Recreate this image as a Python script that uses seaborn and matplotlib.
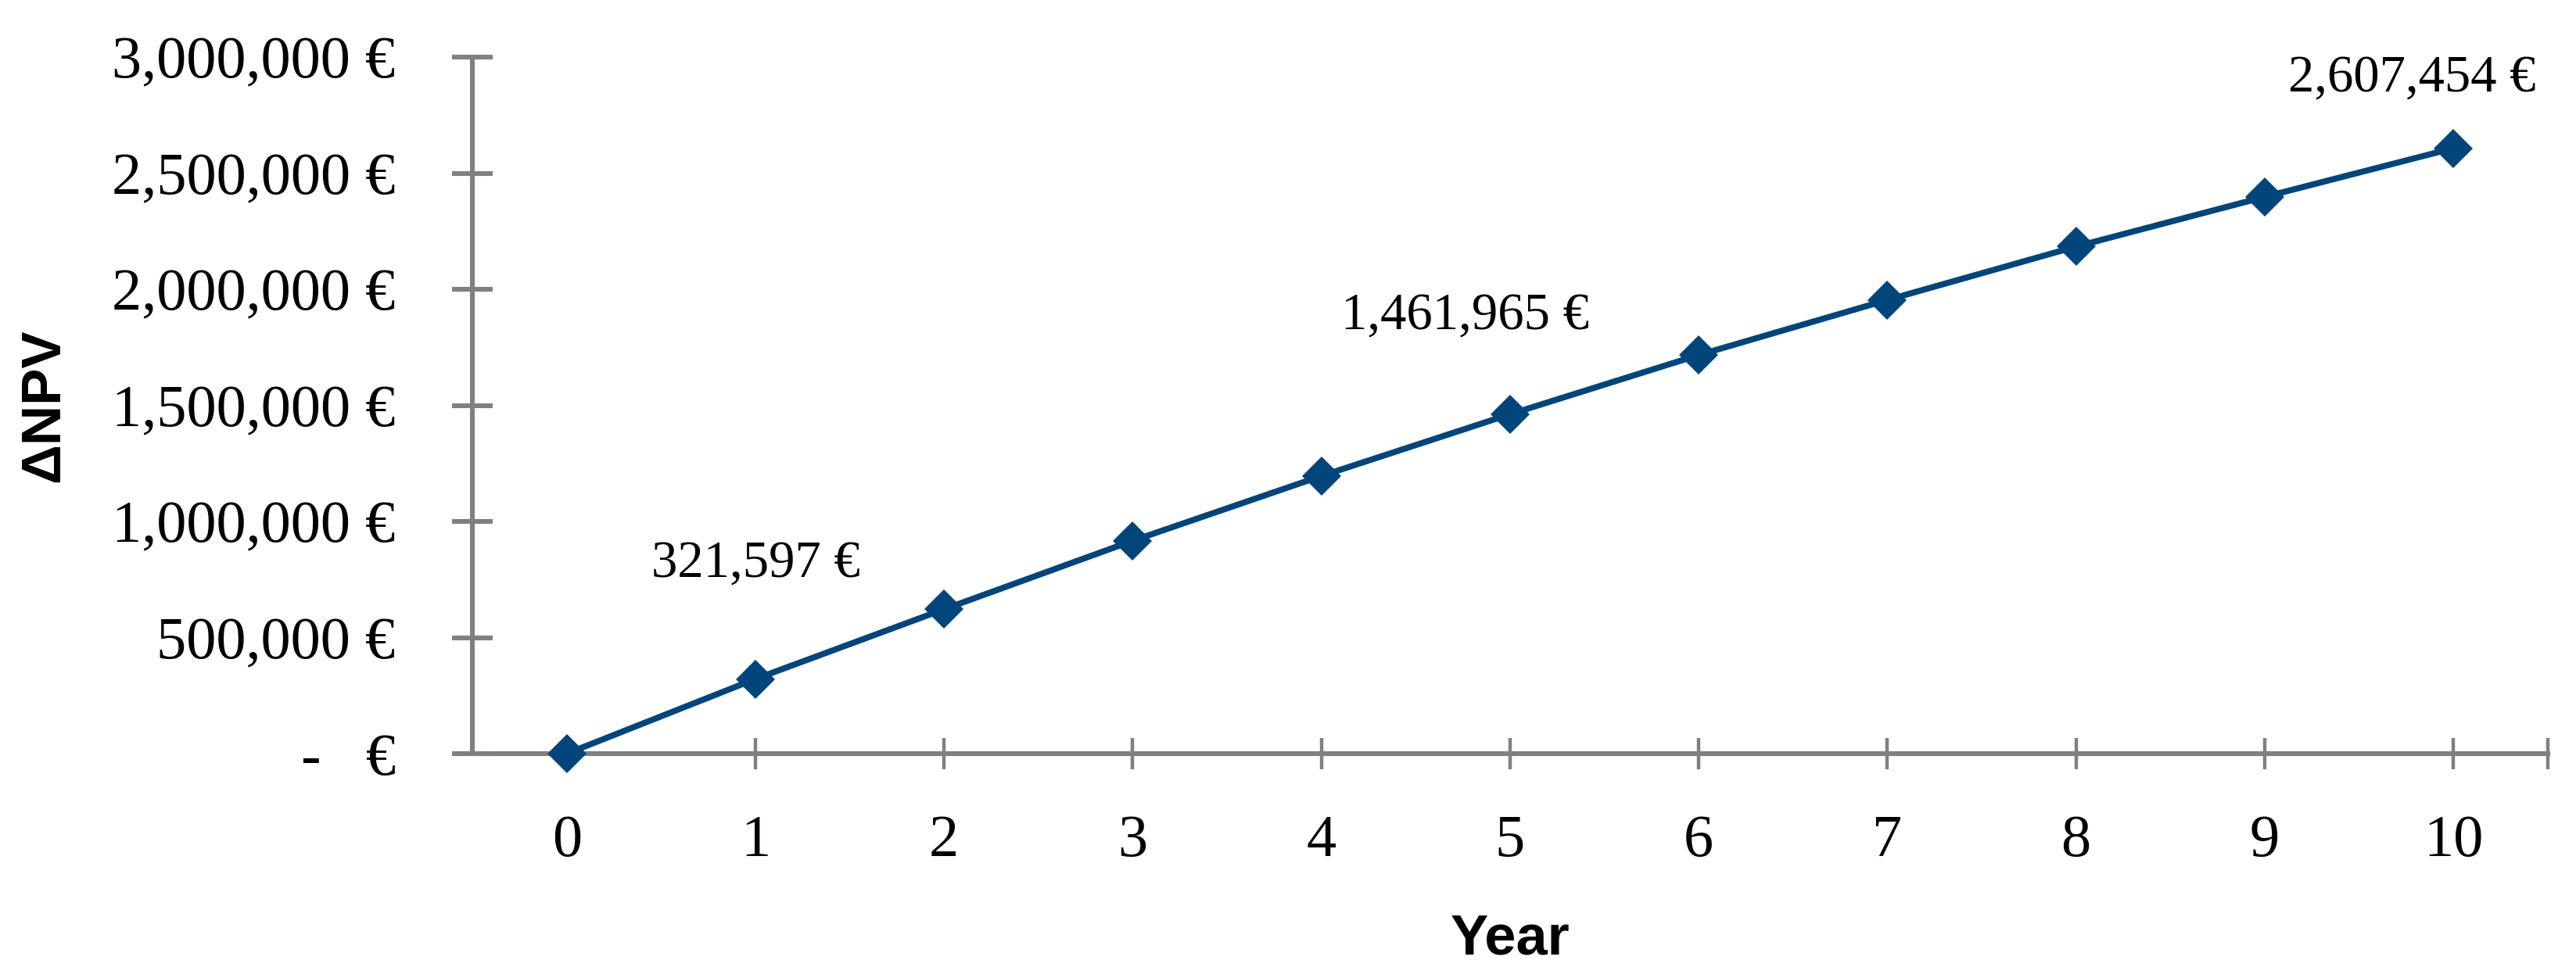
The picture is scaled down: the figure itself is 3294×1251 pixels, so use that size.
import pandas as pd
import seaborn as sns
import matplotlib.pyplot as plt
from matplotlib.ticker import FuncFormatter, FixedLocator

years = [0, 1, 2, 3, 4, 5, 6, 7, 8, 9, 10]
npv = [0, 321597, 622000, 917000, 1196000, 1461965, 1717000, 1954000, 2184000, 2398000, 2607454]
labelled = {1: (0, 147), 5: (-57, 126), 10: (-53, 90)}

df = pd.DataFrame({'Year': years, 'NPV': npv})

sns.set_style('white')
plt.rcParams['font.family'] = ['Liberation Serif', 'DejaVu Serif']
plt.rcParams['text.color'] = 'black'
plt.rcParams['xtick.labelcolor'] = 'black'
plt.rcParams['ytick.labelcolor'] = 'black'
plt.rcParams['axes.labelcolor'] = 'black'

fig = plt.figure(figsize=(16.47, 6.255), dpi=200)
ax = fig.add_axes([0.1834, 0.2294, 0.989 - 0.1834, 0.9416 - 0.2294])

blue = '#02457A'
grey = '#808080'
sns.lineplot(data=df, x='Year', y='NPV', ax=ax, color=blue, linewidth=2.8,
             marker='D', markersize=12.5, markeredgecolor=blue, markeredgewidth=0,
             clip_on=False, zorder=5)

for i, (dx, dy) in labelled.items():
    ax.annotate(f"{npv[i]:,.0f} €", (years[i], npv[i]), xytext=(dx, dy),
                textcoords='offset pixels', ha='center', va='center', fontsize=24)

ax.set_xlim(-0.5, 10.5)
ax.set_ylim(0, 3000000)
ax.set_xticks(years)
ax.xaxis.set_minor_locator(FixedLocator([10.5]))
ax.set_yticks(range(0, 3000001, 500000))
ax.yaxis.set_major_formatter(FuncFormatter(lambda v, p: '-   €' if v == 0 else f"{v:,.0f} €"))

for s in ['top', 'right']:
    ax.spines[s].set_visible(False)
for s in ['left', 'bottom']:
    ax.spines[s].set_color(grey)
    ax.spines[s].set_linewidth(2.2)

ax.tick_params(axis='y', which='major', direction='inout', length=19, width=2.2,
               color=grey, labelsize=27.5, pad=26, left=True)
ax.tick_params(axis='x', which='both', direction='inout', length=14.5, width=1.6,
               color=grey, labelsize=27.5, pad=21, bottom=True)

ax.set_xlabel('Year', family=['Liberation Sans', 'DejaVu Sans'], fontweight='bold',
              fontsize=26, labelpad=20)
ax.set_ylabel('ΔNPV', family=['Liberation Sans', 'DejaVu Sans'], fontweight='bold',
              fontsize=25.5, va='center')
ax.yaxis.set_label_coords(-(604 - 57) / (3258 - 604), 0.5)

plt.savefig('out.png', dpi=200)
